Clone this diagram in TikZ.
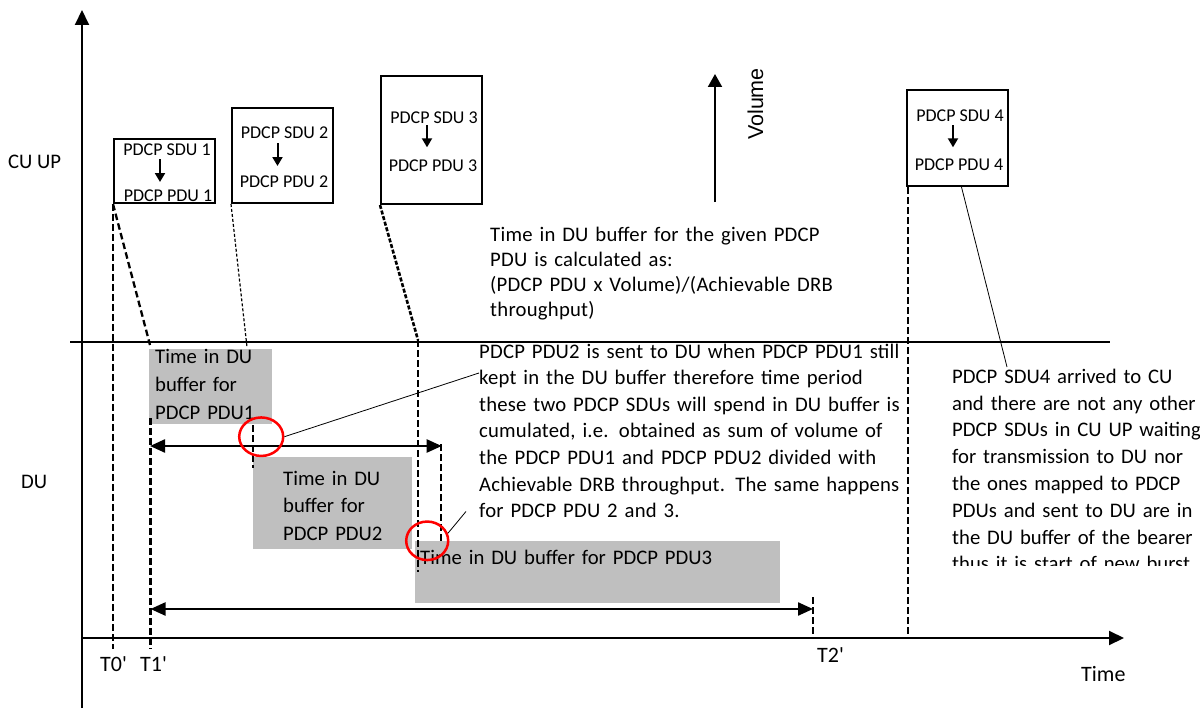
\documentclass[tikz,border=0pt]{standalone}
\usepackage{fontspec}
\setmainfont{Carlito}
\newfontfamily\noteafont[LetterSpace=1.2]{Carlito}
\newfontfamily\notebfont[LetterSpace=1.0]{Carlito}
\newfontfamily\lblfont{Carlito}
\newfontfamily\volfont{Liberation Sans}
\usetikzlibrary{arrows.meta,shapes.geometric}
\definecolor{bufgrey}{HTML}{BFBFBF}
\tikzset{
  axisarrow/.style={line width=2pt, -{Triangle[length=15pt,width=14pt]}},
  sepline/.style={line width=2pt},
  cubox/.style={draw, line width=2pt, inner sep=0pt, anchor=north west},
  boxtext/.style={inner sep=0pt, anchor=base, font=\fontsize{18}{20}\selectfont},
  maparrow/.style={line width=2pt, -{Triangle[length=9pt,width=10pt]}},
  volarrow/.style={line width=2pt, -{Triangle[length=13pt,width=14pt]}},
  bufbox/.style={fill=bufgrey, inner sep=0pt, anchor=north west},
  buftext/.style={inner sep=0pt, anchor=base west, align=left},
  notetext/.style={inner sep=0pt, anchor=base west, align=left},
  tdash/.style={line width=2.3pt, dash pattern=on 6.5pt off 3.5pt},
  thindash/.style={line width=1.2pt, dash pattern=on 3pt off 2pt},
  densedash/.style={line width=2.6pt, dash pattern=on 4pt off 1.8pt},
  spanarrow/.style={line width=2.3pt, {Triangle[length=15pt,width=13pt]}-{Triangle[length=15pt,width=13pt]}},
  hilite/.style={draw=red, line width=2.5pt, ellipse, inner sep=0pt},
  callout/.style={line width=0.8pt},
  lbl/.style={inner sep=0pt, anchor=base west, font=\lblfont\fontsize{22}{24}\selectfont},
}
\begin{document}
\begin{tikzpicture}[x=1pt,y=-1pt]
\useasboundingbox (0,0) rectangle (1200,709);

% axes
\coordinate (ybot) at (82,708);
\coordinate (ytop) at (82,10);
\coordinate (xorg) at (82,638);
\coordinate (xend) at (1124,638);
\draw[axisarrow] (ybot) -- (ytop);
\draw[axisarrow] (xorg) -- (xend);
\coordinate (sepl) at (70,342);
\coordinate (sepr) at (1110,342);
\draw[sepline] (sepl) -- (sepr);

% axis labels
\node[lbl, font=\lblfont\fontsize{20.7}{22}\selectfont] (cuup) at (8,168) {CU UP};
\node[lbl, font=\lblfont\fontsize{20.7}{22}\selectfont] (du) at (21,488) {DU};
\node[lbl] (t0) at (100,671) {T0'};
\node[lbl] (t1) at (140,671) {T1'};
\node[lbl] (t2) at (817,662) {T2'};
\node[lbl] (time) at (1081,681) {Time};

% CU UP boxes
\node[cubox, minimum width=101pt, minimum height=64pt] (b1) at (113,138) {};
\node[cubox, minimum width=101pt, minimum height=95pt] (b2) at (231,107) {};
\node[cubox, minimum width=101pt, minimum height=128pt] (b3) at (380,75) {};
\node[cubox, minimum width=101pt, minimum height=96pt] (b4) at (906,89) {};

\node[boxtext] (b1s) at (167,155) {PDCP SDU 1};
\node[boxtext] (b1p) at (168,201.5) {PDCP PDU 1};
\node[boxtext] (b2s) at (284.5,139) {PDCP SDU 2};
\node[boxtext] (b2p) at (284,187.5) {PDCP PDU 2};
\node[boxtext] (b3s) at (434,123.3) {PDCP SDU 3};
\node[boxtext] (b3p) at (433,171.7) {PDCP PDU 3};
\node[boxtext] (b4s) at (960,121.3) {PDCP SDU 4};
\node[boxtext] (b4p) at (959,170) {PDCP PDU 4};

\draw[maparrow] ([xshift=-7pt,yshift=-4pt]b1s.base) -- ++(0,23);
\draw[maparrow] ([xshift=-7pt,yshift=-4pt]b2s.base) -- ++(0,23);
\draw[maparrow] ([xshift=-7pt,yshift=-2pt]b3s.base) -- ++(0,22);
\draw[maparrow] ([xshift=-7pt,yshift=-4pt]b4s.base) -- ++(0,22);

% volume arrow
\coordinate (vbot) at (715,202);
\coordinate (vtop) at (715,74);
\draw[volarrow] (vbot) -- (vtop);
\node[rotate=90, anchor=base, inner sep=0pt, font=\volfont\fontsize{21.5}{24}\selectfont] (vol) at (763,104) {Volume};

% note 1
\node[notetext, font=\noteafont\fontsize{20.7}{25}\selectfont, text width=360pt] (note1) at (490,241)
 {Time in DU buffer for the given PDCP\\PDU is calculated as:\\(PDCP PDU x Volume)/(Achievable DRB\\throughput)};

% DU buffer boxes
\node[bufbox, minimum width=123pt, minimum height=75pt] (g1) at (149,349) {};
\node[bufbox, minimum width=159pt, minimum height=92pt] (g2) at (253,457) {};
\node[bufbox, minimum width=365pt, minimum height=62pt] (g3) at (415,541) {};
\node[buftext, font=\fontsize{20.7}{28}\selectfont, text width=120pt] (g1t) at (155,363) {Time in DU\\buffer for\\PDCP PDU1};
\node[buftext, font=\fontsize{20.7}{27.5}\selectfont, text width=125pt] (g2t) at (283,485) {Time in DU\\buffer for\\PDCP PDU2};
\node[buftext, font=\fontsize{20.7}{24}\selectfont, text width=340pt] (g3t) at (420,564) {Time in DU buffer for PDCP PDU3};

% dashed time markers
\coordinate (t0bot) at (113,649);
\coordinate (d1end) at (150,345);
\coordinate (t1top) at (150.5,418);
\coordinate (t1bot) at (150.5,649);
\coordinate (d2end) at (247,347);
\coordinate (p2top) at (253,425);
\coordinate (p2bot) at (253,468);
\coordinate (d3end) at (418,340);
\coordinate (v3bot) at (418,572);
\coordinate (r1top) at (441,444);
\coordinate (r1bot) at (441,541);
\coordinate (t2top) at (813,597);
\coordinate (t2bot) at (813,638);
\coordinate (t4bot) at (908,638);
\draw[tdash] (b1.south west) -- (t0bot);
\draw[tdash] (b1.south west) -- (d1end);
\draw[tdash] (t1top) -- (t1bot);
\draw[thindash] (b2.south west) -- (d2end);
\draw[tdash] (p2top) -- (p2bot);
\draw[densedash] (b3.south west) -- (d3end);
\draw[tdash] (d3end) -- (v3bot);
\draw[tdash] (r1top) -- (r1bot);
\draw[tdash] (t2top) -- (t2bot);
\draw[tdash] ([xshift=2pt]b4.south west) -- (t4bot);

% span arrows
\coordinate (a1l) at (150,446);
\coordinate (a1r) at (441.7,446);
\coordinate (a2l) at (150.5,609);
\coordinate (a2r) at (813,609);
\draw[spanarrow] (a1l) -- (a1r);
\draw[spanarrow] (a2l) -- (a2r);

% note 2
\node[notetext, font=\notebfont\fontsize{20.7}{26.6}\selectfont, text width=420pt] (note2) at (479,358)
 {\makebox[419pt][s]{PDCP PDU2 is sent to DU when PDCP PDU1 still}\\
  \makebox[419pt][s]{kept in the DU buffer therefore time period}\\
  \makebox[419pt][s]{these two PDCP SDUs will spend in DU buffer is}\\
  \makebox[419pt][s]{cumulated, i.e. obtained as sum of volume of}\\
  \makebox[419pt][s]{the PDCP PDU1 and PDCP PDU2 divided with}\\
  \makebox[419pt][s]{Achievable DRB throughput. The same happens}\\
  for PDCP PDU 2 and 3.};

% note 3 (clipped)
\begin{scope}
\clip (940,350) rectangle (1200,565);
\node[notetext, font=\fontsize{20.7}{26.8}\selectfont, text width=250pt] (note3) at (952,383.3)
 {PDCP SDU4 arrived to CU\\and there are not any other\\PDCP SDUs in CU UP waiting\\for transmission to DU nor\\the ones mapped to PDCP\\PDUs and sent to DU are in\\the DU buffer of the bearer\\thus it is start of new burst};
\end{scope}

% highlights and callouts
\node[hilite, minimum width=44pt, minimum height=38.5pt] (c1) at (261.2,436.7) {};
\node[hilite, minimum width=42pt, minimum height=38.5pt] (c2) at (427.2,540.8) {};
\coordinate (c1end) at (479,373);
\coordinate (c2end) at (466,511.5);
\coordinate (c4end) at (1007,367);
\draw[callout] (c1.east) -- (c1end);
\draw[callout] (c2.20) -- (c2end);
\draw[callout] ([xshift=4pt]b4.south) -- (c4end);
\end{tikzpicture}
\end{document}
